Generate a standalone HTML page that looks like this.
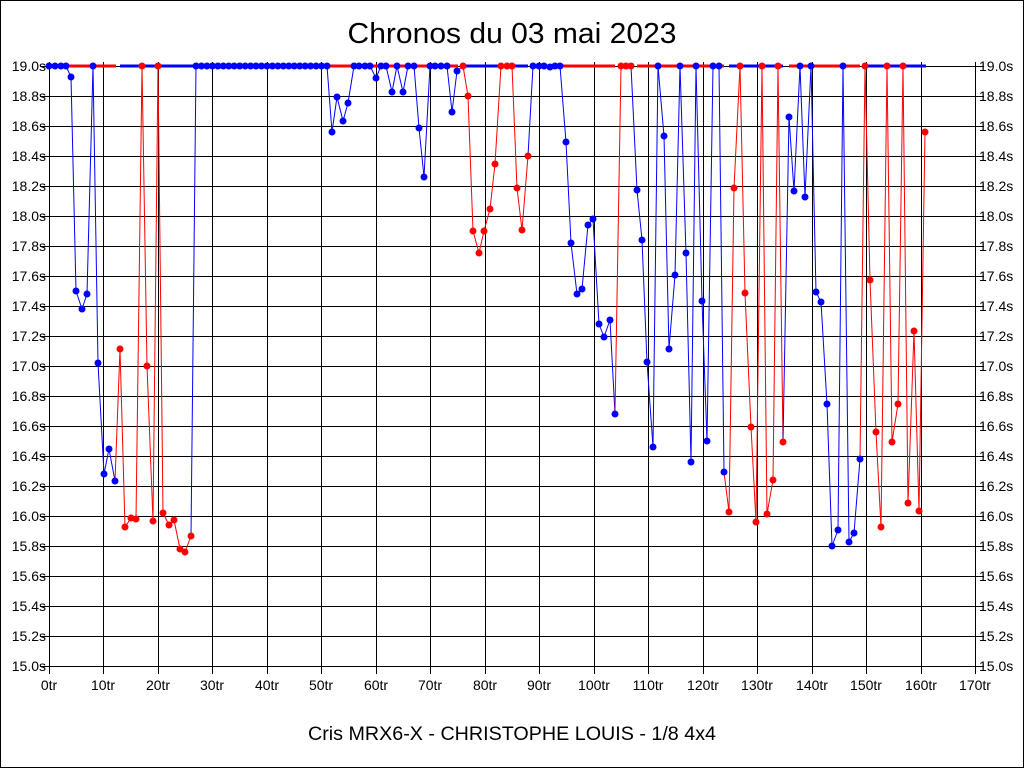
<!DOCTYPE html>
<html><head><meta charset="utf-8"><style>
body{margin:0;background:#fff}
svg{display:block}
text{font-family:"Liberation Sans",sans-serif;fill:#000}
</style></head><body>
<svg id="s" width="1024" height="768" xmlns="http://www.w3.org/2000/svg">
<rect x="0.5" y="0.5" width="1023" height="767" fill="#fff" stroke="#000"/>
<text x="512" y="43" font-size="29" text-anchor="middle" textLength="329" lengthAdjust="spacingAndGlyphs">Chronos du 03 mai 2023</text>
<text x="512" y="740" font-size="19" text-anchor="middle" textLength="408" lengthAdjust="spacingAndGlyphs">Cris MRX6-X - CHRISTOPHE LOUIS - 1/8 4x4</text>
<g id="grid" stroke="#000" stroke-width="1"></g>
<g font-size="14" text-anchor="end">
<text x="46" y="71">19.0s</text><text x="46" y="101">18.8s</text><text x="46" y="131">18.6s</text><text x="46" y="161">18.4s</text><text x="46" y="191">18.2s</text><text x="46" y="221">18.0s</text><text x="46" y="251">17.8s</text><text x="46" y="281">17.6s</text><text x="46" y="311">17.4s</text><text x="46" y="341">17.2s</text><text x="46" y="371">17.0s</text><text x="46" y="401">16.8s</text><text x="46" y="431">16.6s</text><text x="46" y="461">16.4s</text><text x="46" y="491">16.2s</text><text x="46" y="521">16.0s</text><text x="46" y="551">15.8s</text><text x="46" y="581">15.6s</text><text x="46" y="611">15.4s</text><text x="46" y="641">15.2s</text><text x="46" y="671">15.0s</text>
</g>
<g font-size="14" text-anchor="start">
<text x="979" y="71">19.0s</text><text x="979" y="101">18.8s</text><text x="979" y="131">18.6s</text><text x="979" y="161">18.4s</text><text x="979" y="191">18.2s</text><text x="979" y="221">18.0s</text><text x="979" y="251">17.8s</text><text x="979" y="281">17.6s</text><text x="979" y="311">17.4s</text><text x="979" y="341">17.2s</text><text x="979" y="371">17.0s</text><text x="979" y="401">16.8s</text><text x="979" y="431">16.6s</text><text x="979" y="461">16.4s</text><text x="979" y="491">16.2s</text><text x="979" y="521">16.0s</text><text x="979" y="551">15.8s</text><text x="979" y="581">15.6s</text><text x="979" y="611">15.4s</text><text x="979" y="641">15.2s</text><text x="979" y="671">15.0s</text>
</g>
<g font-size="14" text-anchor="middle">
<text x="49" y="690">0tr</text><text x="103" y="690">10tr</text><text x="158" y="690">20tr</text><text x="212" y="690">30tr</text><text x="267" y="690">40tr</text><text x="321" y="690">50tr</text><text x="376" y="690">60tr</text><text x="430" y="690">70tr</text><text x="485" y="690">80tr</text><text x="539" y="690">90tr</text><text x="594" y="690">100tr</text><text x="648" y="690">110tr</text><text x="703" y="690">120tr</text><text x="757" y="690">130tr</text><text x="812" y="690">140tr</text><text x="866" y="690">150tr</text><text x="921" y="690">160tr</text><text x="975" y="690">170tr</text>
</g>
<g id="data"></g>
</svg>
<script>
var NS="http://www.w3.org/2000/svg";
function el(p,t,a){var e=document.createElementNS(NS,t);for(var k in a)e.setAttribute(k,a[k]);p.appendChild(e);return e;}
var g=document.getElementById("grid");
for(var i=0;i<=20;i++){var y=66+30*i;el(g,"line",{x1:40,x2:984,y1:y+0.5,y2:y+0.5});}
for(var i=0;i<=17;i++){var x=Math.round(49+926*i/17)+0.5;el(g,"line",{x1:x,x2:x,y1:62,y2:674});}
var B="#00f",R="#f00",T=66;
var P=[[49,T,B],[55,T,B],[61,T,B],[66,T,B],[71,77,B],[76,291,B],[82,309,B],[87,294,B],[93,T,B],[98,363,B],[104,474,B],[109,449,B],[115,481,B],
[120,349,R],[125,527,R],[131,518,R],[136,519,R],[142,T,R],[147,366,R],[153,521,R],[158,T,R],[163,513,R],[169,525,R],[174,520,R],[180,549,R],[185,552,R],[191,536,R]];
for(var i=0;i<25;i++)P.push([196+131*i/24,T,B]);
P=P.concat([[332,132,B],[337,97,B],[343,121,B],[348,103,B],[354,T,B],[359,T,B],[365,T,B],[370,T,B],[376,78,B],[381,T,B],[386,T,B],[392,92,B],[397,T,B],[403,92,B],[408,T,B],[414,T,B],[419,128,B],[424,177,B],[430,T,B],[435,T,B],[441,T,B],[447,T,B],[452,112,B],[457,71,B],
[463,T,R],[468,96,R],[473,231,R],[479,253,R],[484,231,R],[490,209,R],[495,164,R],[501,T,R],[507,T,R],[512,T,R],[517,188,R],[522,230,R],[528,156,R],
[533,T,B],[539,T,B],[544,T,B],[550,67,B],[555,T,B],[560,T,B],[566,142,B],[571,243,B],[577,294,B],[582,289,B],[588,225,B],[593,219,B],[599,324,B],[604,337,B],[610,320,B],[615,414,B],
[621,T,R],[626,T,R],[631,T,R],
[637,190,B],[642,240,B],[647,362,B],[653,447,B],[658,T,B],[664,136,B],[669,349,B],[675,275,B],[680,T,B],[686,253,B],[691,462,B],[696,T,B],[702,301,B],[707,441,B],[713,T,B],[719,T,B],[724,472,B],
[729,512,R],[734,188,R],[740,T,R],[745,293,R],[751,427,R],[756,522,R],[762,T,R],[767,514,R],[773,480,R],[778,T,R],[783,442,R],
[789,117,B],[794,191,B],[800,T,B],[805,197,B],[811,T,B],[816,292,B],[821,302,B],[827,404,B],[832,546,B],[838,530,B],[843,T,B],[849,542,B],[854,533,B],[860,459,B],
[865,T,R],[870,280,R],[876,432,R],[881,527,R],[887,T,R],[892,442,R],[898,404,R],[903,T,R],[908,503,R],[914,331,R],[919,511,R],[925,132,R]]);
var d=document.getElementById("data");
var bars=[[67,116,R],[120,193,B],[196,458,R],[463,498,B],[498,512,R],[512,528,B],[533,615,R],[626,634,B],[637,724,R],[729,783,B],[789,860,R],[866,926,B]];
bars.forEach(function(b){el(d,"line",{x1:b[0],x2:b[1],y1:66,y2:66,stroke:b[2],"stroke-width":3});});
for(var n=1;n<P.length;n++){var a=P[n-1],b=P[n];
 if(a[1]==T&&b[1]==T)continue;
 el(d,"line",{x1:a[0],y1:a[1],x2:b[0],y2:b[1],stroke:b[2],"stroke-width":1});}
P.forEach(function(p){el(d,"circle",{cx:p[0],cy:p[1],r:3.5,fill:p[2]});});
</script>
</body></html>
